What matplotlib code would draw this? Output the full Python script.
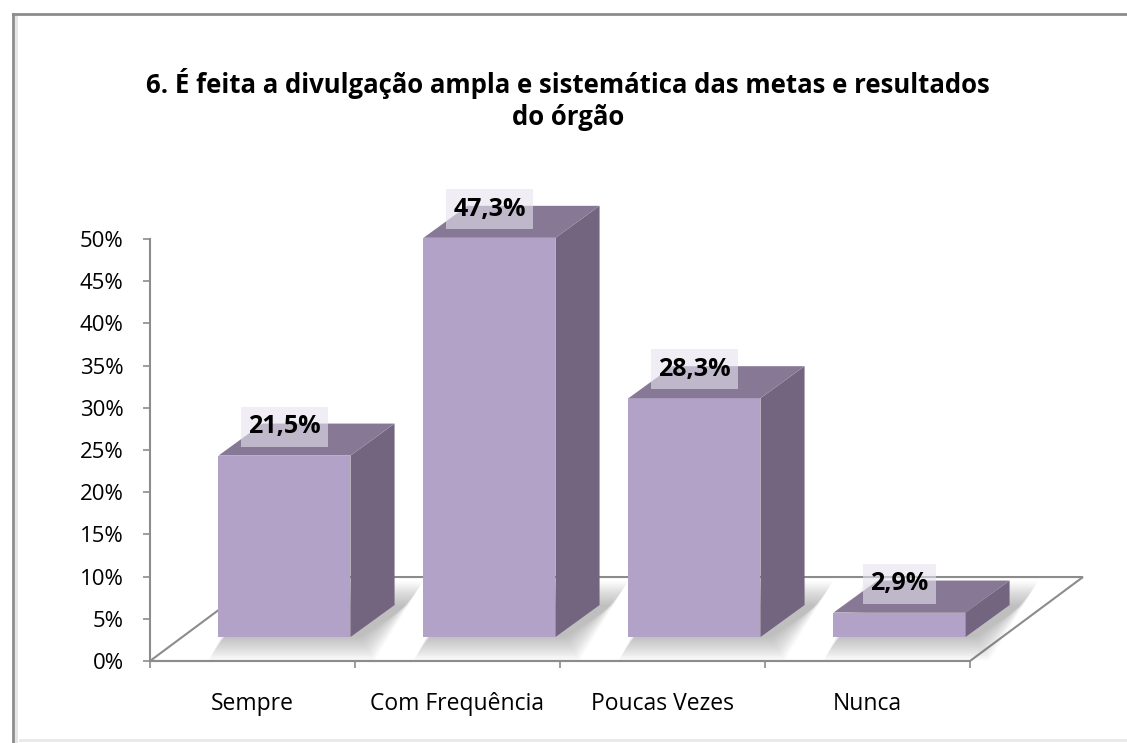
import matplotlib.pyplot as plt
from matplotlib.lines import Line2D
from matplotlib.patches import Polygon, Rectangle
from matplotlib.ticker import FuncFormatter

CATEGORIES = ["Sempre", "Com Frequência", "Poucas Vezes", "Nunca"]
VALUES = [21.5, 47.3, 28.3, 2.9]
VALUE_LABELS = ["21,5%", "47,3%", "28,3%", "2,9%"]
TITLE = "6. É feita a divulgação ampla e sistemática das metas e resultados\ndo órgão"

# colours
FRONT = "#b2a2c7"
SIDE = "#736580"
TOP = "#877995"
GRAY = "#8c8c8c"

# 3d look, in data units (x: categories, y: percent)
FLOOR_DX, FLOOR_DY = 0.551, 9.95
OFF_X, OFF_Y = 0.156, 2.84
BAR_W = 0.644
DEPTH_X, DEPTH_Y = 0.215, 3.79

W, H = 1127, 743
plt.rcParams["font.family"] = ["Open Sans", "DejaVu Sans"]

fig = plt.figure(figsize=(W / 100, H / 100), dpi=100)
ax = fig.add_axes([150 / W, (H - 661) / H, 820 / W, 422 / H])
ax.set_xlim(0, len(CATEGORIES))
ax.set_ylim(0, 50)
ax.patch.set_alpha(0)

# floor
n = len(CATEGORIES)
floor = Polygon([(0, 0), (n, 0), (n + FLOOR_DX, FLOOR_DY), (FLOOR_DX, FLOOR_DY)],
                closed=True, fc="white", ec=GRAY, lw=1.5, clip_on=False, zorder=1)
ax.add_patch(floor)

for i, v in enumerate(VALUES):
    x0 = i + 0.5 - BAR_W / 2 + OFF_X
    x1 = x0 + BAR_W
    y0 = OFF_Y

    # soft shadow on the floor
    for k in range(12):
        ex = 0.006 * k
        ey = 0.25 * k
        sh = Polygon([(x0 - ex + 0.02, y0 - ey), (x1 + ex + 0.05, y0 - ey),
                      (x1 + DEPTH_X + ex + 0.07, y0 + DEPTH_Y + ey),
                      (x0 + DEPTH_X - ex, y0 + DEPTH_Y + ey)],
                     closed=True, fc="#555555", ec="none", alpha=0.035,
                     clip_on=False, zorder=2)
        ax.add_patch(sh)

    front = Rectangle((x0, y0), BAR_W, v, fc=FRONT, ec="none", clip_on=False, zorder=3)
    side = Polygon([(x1, y0), (x1 + DEPTH_X, y0 + DEPTH_Y),
                    (x1 + DEPTH_X, y0 + DEPTH_Y + v), (x1, y0 + v)],
                   closed=True, fc=SIDE, ec="none", clip_on=False, zorder=3)
    top = Polygon([(x0, y0 + v), (x1, y0 + v), (x1 + DEPTH_X, y0 + v + DEPTH_Y),
                   (x0 + DEPTH_X, y0 + v + DEPTH_Y)],
                  closed=True, fc=TOP, ec="none", clip_on=False, zorder=3)
    ax.add_patch(front)
    ax.add_patch(side)
    ax.add_patch(top)

    ax.text(x0 + BAR_W / 2, y0 + v + 3.4, VALUE_LABELS[i], ha="center", va="center",
            fontsize=18, fontweight="bold", color="black", zorder=5,
            bbox=dict(boxstyle="square,pad=0.3", fc="#e6e2ee", ec="none", alpha=0.6))

# axes
for s in ["top", "right"]:
    ax.spines[s].set_visible(False)
for s in ["left", "bottom"]:
    ax.spines[s].set_color(GRAY)
    ax.spines[s].set_linewidth(1.5)

ax.set_yticks(range(0, 51, 5))
ax.yaxis.set_major_formatter(FuncFormatter(lambda val, pos: f"{int(val)}%"))
ax.tick_params(axis="y", direction="out", length=5, width=1.2, color=GRAY,
               labelsize=16, pad=14)

ax.set_xticks(range(n + 1))
ax.set_xticklabels([])
ax.set_xticks([i + 0.5 for i in range(n)], minor=True)
ax.set_xticklabels(CATEGORIES, minor=True)
ax.tick_params(axis="x", which="major", direction="out", length=5, width=1.2, color=GRAY)
ax.tick_params(axis="x", which="minor", length=0, labelsize=16.5, pad=22)

fig.text(568 / W, 1 - 68 / H, TITLE, ha="center", va="top", fontsize=18.5,
         fontweight="bold", linespacing=1.25)

# chart frame
fig.add_artist(Line2D([13 / W, 13 / W], [0, 1 - 14 / H], color=GRAY, lw=2))
fig.add_artist(Line2D([13 / W, 1], [1 - 14 / H, 1 - 14 / H], color=GRAY, lw=2))
fig.add_artist(Line2D([16 / W, 16 / W], [0, 1 - 17 / H], color="#e4e4e4", lw=2))
fig.add_artist(Line2D([20 / W, 1], [3 / H, 3 / H], color="#e8e8e8", lw=2))

fig.savefig("out.png", dpi=100)
